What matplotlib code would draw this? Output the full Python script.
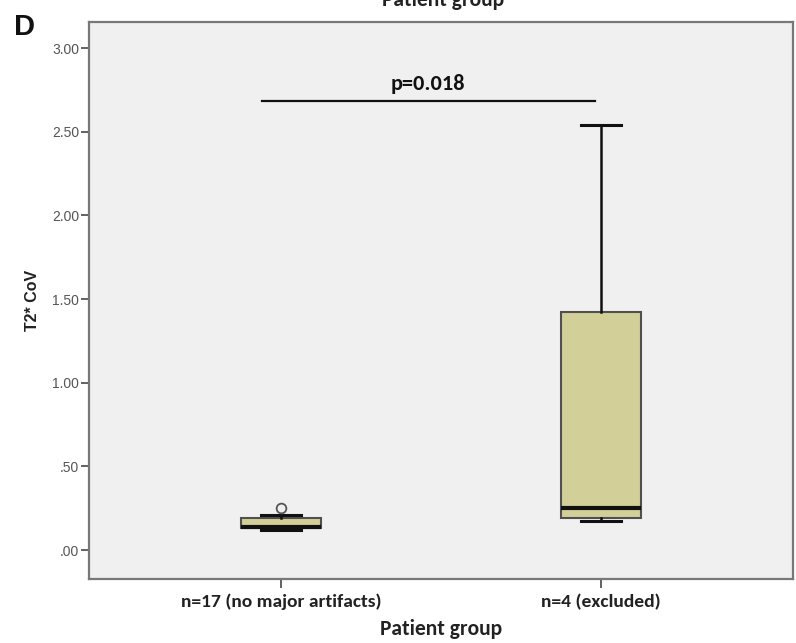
import matplotlib
matplotlib.use("Agg")
import matplotlib.pyplot as plt

# group summaries (T2* CoV)
groups = ["n=17 (no major artifacts)", "n=4 (excluded)"]
whisker_low = [0.120, 0.173]
q1 = [0.130, 0.190]
median = [0.140, 0.253]
q3 = [0.189, 1.424]
whisker_high = [0.209, 2.540]
outliers = [[0.253], []]

p_label = "p=0.018"
bracket_y = 2.684
yticks = [0.0, 0.5, 1.0, 1.5, 2.0, 2.5, 3.0]
ytick_labels = [".00", ".50", "1.00", "1.50", "2.00", "2.50", "3.00"]

calibri_like = ["Carlito", "Lato", "DejaVu Sans"]
arial_like = ["Liberation Sans", "DejaVu Sans"]

stats = []
for i, name in enumerate(groups):
    stats.append({
        "label": name,
        "whislo": whisker_low[i],
        "q1": q1[i],
        "med": median[i],
        "q3": q3[i],
        "whishi": whisker_high[i],
        "fliers": outliers[i],
    })

fig = plt.figure(figsize=(7.96, 6.43), dpi=100)
ax = fig.add_axes([0.1118, 0.1003, 0.8844, 0.8655])
ax.set_facecolor("#f0f0f0")

ax.bxp(stats, positions=[1, 2], widths=0.25, patch_artist=True,
       boxprops=dict(facecolor="#d3cf98", edgecolor="#505050", linewidth=1.5),
       medianprops=dict(color="#111111", linewidth=3),
       whiskerprops=dict(color="#111111", linewidth=1.8),
       capprops=dict(color="#111111", linewidth=2.2),
       capwidths=0.125,
       flierprops=dict(marker="o", markersize=7, markerfacecolor="none",
                       markeredgecolor="#555555", markeredgewidth=1.3))

ax.set_xlim(0.4, 2.6)
ax.set_ylim(-0.170, 3.156)

ax.set_yticks(yticks)
ax.set_yticklabels(ytick_labels, fontsize=10, color="#555555", family=arial_like)
ax.set_xticks([1, 2])
ax.set_xticklabels(groups, fontsize=14, fontweight="bold", color="#222222",
                   family=calibri_like)
ax.tick_params(axis="y", length=6, width=1.3, color="#555555", pad=1)
ax.tick_params(axis="x", length=6.5, width=1.3, color="#555555", pad=4.5)

for s in ax.spines.values():
    s.set_color("#787878")
    s.set_linewidth(1.6)

ax.set_ylabel("T2* CoV", fontsize=11.5, fontweight="bold", family=arial_like,
              color="#222222", labelpad=9)
ax.set_xlabel("Patient group", fontsize=15.5, fontweight="bold", family=calibri_like,
              color="#222222", labelpad=6)

# significance bracket
ax.plot([0.94, 1.98], [bracket_y, bracket_y], color="#111111", linewidth=1.6)
ax.text(1.458, bracket_y + 0.1, p_label, ha="center", va="center", fontsize=16,
        fontweight="bold", family=calibri_like, color="#111111")

# panel letter and the clipped heading of the panel above
fig.text(0.018, 0.958, "D", fontsize=21, fontweight="bold", family=arial_like,
         ha="left", va="center", color="#111111")
fig.text(0.557, 1.0, "Patient group", fontsize=15.5, fontweight="bold",
         family=calibri_like, ha="center", va="center", color="#222222")

fig.savefig("out.png", dpi=100, facecolor="white")
